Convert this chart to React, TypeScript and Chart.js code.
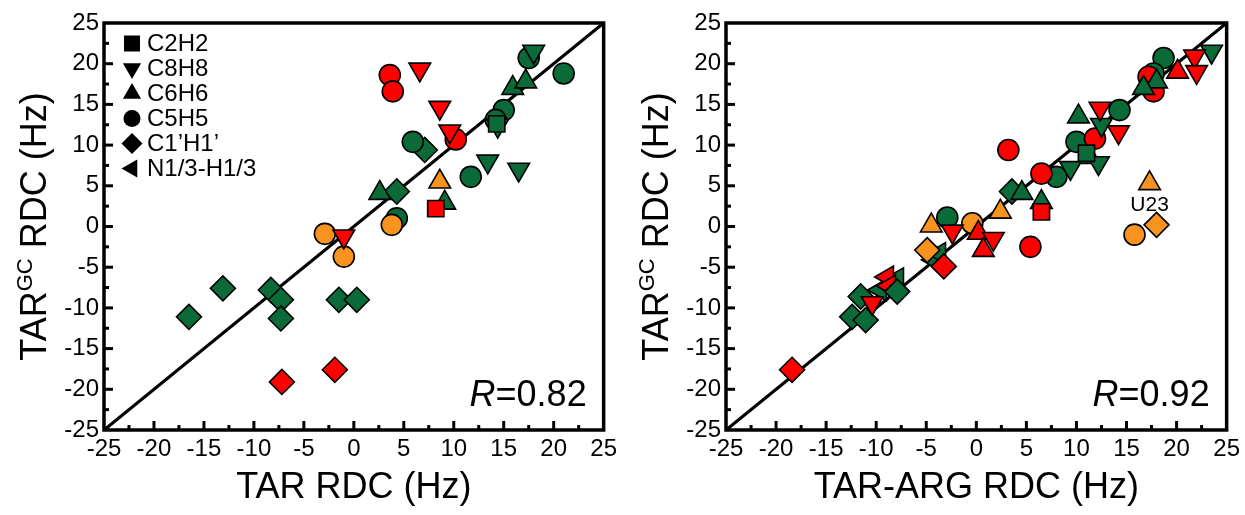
import React, { useEffect, useRef } from "react";
import { Chart, registerables } from "chart.js";

Chart.register(...registerables);

type P = [number, number];

// ---------- colours ----------
const RED = "#ff0000";
const ORANGE = "#f7931e";
const GREEN = "#0b6b38";

// ---------- axis ticks ----------
const tickValues = [-25, -20, -15, -10, -5, 0, 5, 10, 15, 20, 25];

// ---------- legend ----------
const legendLabels = ["C2H2", "C8H8", "C6H6", "C5H5", "C1\u2019H1\u2019", "N1/3-H1/3"];
const legendShapes = ["rect", "down", "up", "circle", "diamond", "left"];

// ---------- LEFT panel: TAR RDC vs TAR^GC RDC ----------
const L_C2H2_red: P[] = [[8.2, 2.2]];
const L_C2H2_green: P[] = [[14.3, 12.6]];
const L_C8H8_red: P[] = [[6.6, 19.3], [8.6, 14.6], [9.6, 11.7], [-1.0, -1.2]];
const L_C8H8_green: P[] = [[18.0, 21.5], [14.4, 12.4], [13.4, 8.0], [16.5, 7.0]];
const L_C6H6_orange: P[] = [[8.6, 5.5]];
const L_C6H6_green: P[] = [[9.1, 2.9], [2.6, 4.1], [15.9, 17.0], [17.2, 17.8]];
const L_C5H5_red: P[] = [[3.6, 18.6], [3.9, 16.6], [10.2, 10.7]];
const L_C5H5_orange: P[] = [[3.8, 0.2], [-2.9, -0.9], [-1.0, -3.7]];
const L_C5H5_green: P[] = [[5.9, 10.4], [15.0, 14.3], [14.2, 13.1], [17.5, 20.7], [21.0, 18.8], [11.7, 6.1], [4.3, 1.0]];
const L_C1H1_red: P[] = [[-7.2, -19.1], [-1.9, -17.6]];
const L_C1H1_green: P[] = [[7.1, 9.4], [4.3, 4.3], [-13.1, -7.6], [-16.5, -11.1], [-8.3, -7.8], [-7.3, -9.0], [-7.3, -11.3], [-1.5, -9.0], [0.3, -9.0]];

// ---------- RIGHT panel: TAR-ARG RDC vs TAR^GC RDC ----------
const R_C2H2_red: P[] = [[6.5, 1.8]];
const R_C2H2_green: P[] = [[11.0, 9.0]];
const R_C8H8_red: P[] = [[21.8, 20.9], [22.0, 19.0], [12.35, 14.5], [14.2, 11.6], [1.7, -1.5], [-2.4, -0.6], [-10.4, -9.4]];
const R_C8H8_green: P[] = [[23.5, 21.5], [12.5, 12.5], [12.2, 7.8], [9.4, 7.2]];
const R_C6H6_red: P[] = [[20.1, 19.0], [0.2, -0.8], [0.7, -2.9]];
const R_C6H6_orange: P[] = [[17.3, 5.3], [2.4, 1.8], [-4.5, 0.1]];
const R_C6H6_green: P[] = [[18.0, 17.8], [16.7, 17.0], [10.2, 13.5], [11.3, 8.5], [4.55, 4.1], [6.5, 3.0]];
const R_C5H5_red: P[] = [[17.2, 18.4], [17.7, 16.6], [11.85, 10.8], [6.5, 6.5], [3.2, 9.4], [5.4, -2.5]];
const R_C5H5_orange: P[] = [[-0.4, 0.4], [15.8, -1.0]];
const R_C5H5_green: P[] = [[18.7, 20.7], [17.7, 18.8], [14.3, 14.3], [10.0, 10.4], [8.0, 6.1], [-2.9, 1.1]];
const R_C1H1_red: P[] = [[-3.25, -4.9], [-18.4, -17.6]];
const R_C1H1_orange: P[] = [[18.0, 0.2], [-4.9, -2.9]];
const R_C1H1_green: P[] = [[3.55, 4.3], [-7.9, -8.0], [-11.55, -8.6], [-12.4, -11.1], [-11.05, -11.5]];
const R_N13_red: P[] = [[-8.9, -6.2], [-8.7, -7.3]];
const R_N13_green: P[] = [[-4.25, -4.1], [-7.9, -6.4], [-9.6, -7.8], [-3.7, -3.3]];

const diagonal: P[] = [[-25, -25], [25, 25]];

const FONT = "'Liberation Sans', Arial, sans-serif";

const shapeCfg: Record<string, { style: string; rot: number; r: number }> = {
  rect: { style: "rect", rot: 0, r: 11.5 },
  down: { style: "triangle", rot: 180, r: 12.5 },
  up: { style: "triangle", rot: 0, r: 12.5 },
  circle: { style: "circle", rot: 0, r: 10.5 },
  diamond: { style: "rectRot", rot: 0, r: 12.5 },
  left: { style: "triangle", rot: 270, r: 12.5 },
};

function ds(points: P[], shape: string, color: string) {
  const c = shapeCfg[shape];
  return {
    type: "scatter" as const,
    data: points.map(([x, y]) => ({ x, y })),
    pointStyle: c.style,
    pointRotation: c.rot,
    pointRadius: c.r,
    pointHoverRadius: c.r,
    backgroundColor: color,
    borderColor: "#000",
    pointBorderWidth: 1.6,
    borderWidth: 1.6,
    order: 1,
  };
}

function lineDs() {
  return {
    type: "line" as const,
    data: diagonal.map(([x, y]) => ({ x, y })),
    borderColor: "#000",
    borderWidth: 3.2,
    pointRadius: 0,
    showLine: true,
    fill: false,
    order: 10,
  };
}

function drawShape(ctx: CanvasRenderingContext2D, shape: string, x: number, y: number) {
  ctx.beginPath();
  if (shape === "rect") {
    ctx.rect(x - 8, y - 8, 16, 16);
  } else if (shape === "circle") {
    ctx.arc(x, y, 8.5, 0, Math.PI * 2);
  } else if (shape === "diamond") {
    const r = 10.5;
    ctx.moveTo(x, y - r);
    ctx.lineTo(x + r, y);
    ctx.lineTo(x, y + r);
    ctx.lineTo(x - r, y);
    ctx.closePath();
  } else {
    const rot = shape === "down" ? Math.PI : shape === "left" ? -Math.PI / 2 : 0;
    const r = 10.5;
    for (let i = 0; i < 3; i++) {
      const a = rot + (i * 2 * Math.PI) / 3;
      const px = x + Math.sin(a) * r;
      const py = y - Math.cos(a) * r;
      if (i === 0) ctx.moveTo(px, py);
      else ctx.lineTo(px, py);
    }
    ctx.closePath();
  }
  ctx.fillStyle = "#000";
  ctx.fill();
}

interface PanelProps {
  datasets: any[];
  xTitle: string;
  rText: string;
  showLegend: boolean;
  annotation?: { text: string; x: number; y: number };
  width: number;
  padRight: number;
}

function Panel({ datasets, xTitle, rText, showLegend, annotation, width, padRight }: PanelProps) {
  const ref = useRef<HTMLCanvasElement>(null);
  useEffect(() => {
    if (!ref.current) return;
    const deco = {
      id: "deco",
      afterDraw(chart: any) {
        const ctx: CanvasRenderingContext2D = chart.ctx;
        const a = chart.chartArea;
        const xs = chart.scales.x;
        const ys = chart.scales.y;
        ctx.save();
        // frame
        ctx.strokeStyle = "#000";
        ctx.lineWidth = 3.5;
        ctx.strokeRect(a.left, a.top, a.right - a.left, a.bottom - a.top);
        // inward ticks
        ctx.lineWidth = 3;
        for (let v = -22.5; v < 25; v += 2.5) {
          const major = Math.abs(v % 5) < 1e-6;
          const len = major ? 9 : 5;
          const px = xs.getPixelForValue(v);
          ctx.beginPath();
          ctx.moveTo(px, a.bottom);
          ctx.lineTo(px, a.bottom - len);
          ctx.stroke();
          const py = ys.getPixelForValue(v);
          ctx.beginPath();
          ctx.moveTo(a.left, py);
          ctx.lineTo(a.left + len, py);
          ctx.stroke();
        }
        // x title
        ctx.fillStyle = "#000";
        ctx.font = `36px ${FONT}`;
        ctx.textAlign = "center";
        ctx.textBaseline = "middle";
        ctx.fillText(xTitle, (a.left + a.right) / 2, 488);
        // y title with superscript
        ctx.save();
        ctx.translate(33, (a.top + a.bottom) / 2);
        ctx.rotate(-Math.PI / 2);
        ctx.textAlign = "left";
        ctx.textBaseline = "alphabetic";
        ctx.font = `36px ${FONT}`;
        const w1 = ctx.measureText("TAR").width;
        const w3 = ctx.measureText(" RDC (Hz)").width;
        ctx.font = `22px ${FONT}`;
        const w2 = ctx.measureText("GC").width;
        const total = w1 + w2 + w3;
        let cx = -total / 2;
        const base = 13;
        ctx.font = `36px ${FONT}`;
        ctx.fillText("TAR", cx, base);
        cx += w1;
        ctx.font = `22px ${FONT}`;
        ctx.fillText("GC", cx, base - 14);
        cx += w2;
        ctx.font = `36px ${FONT}`;
        ctx.fillText(" RDC (Hz)", cx, base);
        ctx.restore();
        // R value
        ctx.textBaseline = "alphabetic";
        ctx.textAlign = "left";
        ctx.font = `36px ${FONT}`;
        const rest = "=" + rText;
        const wr = ctx.measureText(rest).width;
        ctx.font = `italic 36px ${FONT}`;
        const wR = ctx.measureText("R").width;
        const rx = a.right - 17 - wr - wR;
        ctx.fillText("R", rx, 406);
        ctx.font = `36px ${FONT}`;
        ctx.fillText(rest, rx + wR, 406);
        // legend
        if (showLegend) {
          ctx.font = `24px ${FONT}`;
          ctx.textBaseline = "middle";
          legendLabels.forEach((lab, i) => {
            const y = 43.5 + i * 25;
            drawShape(ctx, legendShapes[i], 132, y);
            ctx.fillStyle = "#000";
            ctx.fillText(lab, 147, y + 1);
          });
        }
        if (annotation) {
          ctx.font = `21px ${FONT}`;
          ctx.textAlign = "center";
          ctx.textBaseline = "middle";
          ctx.fillStyle = "#000";
          ctx.fillText(
            annotation.text,
            xs.getPixelForValue(annotation.x),
            ys.getPixelForValue(annotation.y)
          );
        }
        ctx.restore();
      },
    };
    const chart = new Chart(ref.current, {
      type: "scatter",
      data: { datasets: [lineDs(), ...datasets] as any },
      options: {
        responsive: false,
        animation: false,
        events: [],
        layout: { padding: { left: 0, top: 23, right: padRight, bottom: 0 } },
        plugins: { legend: { display: false }, tooltip: { enabled: false } },
        scales: {
          x: {
            type: "linear",
            min: -25,
            max: 25,
            afterBuildTicks: (s: any) => {
              s.ticks = tickValues.map((v) => ({ value: v }));
            },
            ticks: {
              color: "#000",
              font: { family: FONT, size: 24 },
              padding: 5,
              maxRotation: 0,
              autoSkip: false,
            },
            grid: { display: false, drawTicks: false },
            border: { display: false },
            afterFit: (s: any) => {
              s.height = 85;
            },
          },
          y: {
            type: "linear",
            min: -25,
            max: 25,
            afterBuildTicks: (s: any) => {
              s.ticks = tickValues.map((v) => ({ value: v }));
            },
            ticks: {
              color: "#000",
              font: { family: FONT, size: 24 },
              padding: 5,
              autoSkip: false,
            },
            grid: { display: false, drawTicks: false },
            border: { display: false },
            afterFit: (s: any) => {
              s.width = 104;
            },
          },
        },
      } as any,
      plugins: [deco],
    });
    return () => chart.destroy();
  }, []);
  return <canvas ref={ref} width={width} height={515} style={{ display: "block" }} />;
}

export default function App() {
  const left = [
    ds(L_C2H2_red, "rect", RED),
    ds(L_C2H2_green, "rect", GREEN),
    ds(L_C8H8_red, "down", RED),
    ds(L_C8H8_green, "down", GREEN),
    ds(L_C6H6_orange, "up", ORANGE),
    ds(L_C6H6_green, "up", GREEN),
    ds(L_C5H5_red, "circle", RED),
    ds(L_C5H5_orange, "circle", ORANGE),
    ds(L_C5H5_green, "circle", GREEN),
    ds(L_C1H1_red, "diamond", RED),
    ds(L_C1H1_green, "diamond", GREEN),
  ];
  const right = [
    ds(R_C2H2_red, "rect", RED),
    ds(R_C2H2_green, "rect", GREEN),
    ds(R_C8H8_red, "down", RED),
    ds(R_C8H8_green, "down", GREEN),
    ds(R_C6H6_red, "up", RED),
    ds(R_C6H6_orange, "up", ORANGE),
    ds(R_C6H6_green, "up", GREEN),
    ds(R_C5H5_red, "circle", RED),
    ds(R_C5H5_orange, "circle", ORANGE),
    ds(R_C5H5_green, "circle", GREEN),
    ds(R_C1H1_red, "diamond", RED),
    ds(R_C1H1_orange, "diamond", ORANGE),
    ds(R_C1H1_green, "diamond", GREEN),
    ds(R_N13_red, "left", RED),
    ds(R_N13_green, "left", GREEN),
  ];
  return (
    <div
      style={{
        position: "absolute",
        left: 0,
        top: 0,
        width: 1245,
        height: 515,
        background: "#fff",
        display: "flex",
      }}
    >
      <Panel datasets={left} xTitle="TAR RDC (Hz)" rText="0.82" showLegend={true} width={622} padRight={15} />
      <Panel
        datasets={right}
        xTitle="TAR-ARG RDC (Hz)"
        rText="0.92"
        showLegend={false}
        annotation={{ text: "U23", x: 17.3, y: 2.6 }}
        width={623}
        padRight={18}
      />
    </div>
  );
}
